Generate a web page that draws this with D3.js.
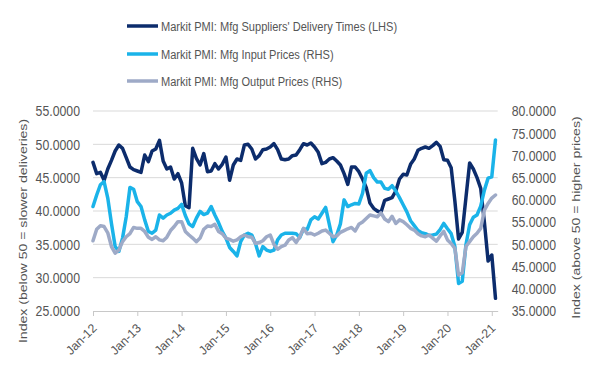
<!DOCTYPE html>
<html>
<head>
<meta charset="utf-8">
<script src="https://cdn.jsdelivr.net/npm/d3@7"></script>
<style>
  html, body { margin: 0; padding: 0; background: #fff; }
  svg { display: block; font-family: "Liberation Sans", Arial, sans-serif; }
</style>
</head>
<body>
<div id="chart"></div>
<script>
// Monthly, Jan-12 .. Feb-21
const tickLabels = ["Jan-12", "Jan-13", "Jan-14", "Jan-15", "Jan-16", "Jan-17", "Jan-18", "Jan-19", "Jan-20", "Jan-21"];

const deliveryTimes = [
  47.3, 45.6, 45.8, 44.6, 46.3, 47.6, 49.0, 49.9, 49.4, 48.0, 46.6, 46.2,
  46.0, 45.8, 48.4, 47.4, 49.0, 49.3, 50.6, 47.5, 46.3, 46.6, 44.8, 45.6,
  44.2, 40.8, 40.5, 49.4, 47.9, 46.9, 48.6, 45.9, 46.0, 47.1, 46.3, 47.0,
  48.1, 44.6, 46.9, 47.8, 47.6, 49.9, 50.0, 49.3, 47.8, 48.3, 49.2, 49.3,
  49.6, 50.1, 49.2, 47.8, 47.7, 47.8, 48.3, 48.4, 49.2, 50.1, 49.9, 50.2,
  49.6, 48.8, 47.1, 47.3, 47.8, 48.0, 47.5, 46.9, 45.6, 44.0, 46.6, 46.6,
  45.9, 44.8, 43.5, 41.2, 40.4, 40.0, 39.8, 41.6, 41.8, 42.0, 43.0, 44.8,
  45.5, 45.4, 47.0, 47.8, 49.1, 49.4, 49.6, 49.4, 49.8, 50.3, 49.7, 47.7,
  47.6, 46.5, 41.5, 35.8, 36.8, 42.0, 47.2, 46.3, 45.0, 43.4, 38.3, 32.5,
  33.4, 26.9
];

const inputPrices = [
  58.5, 61.1, 63.4, 64.1, 60.4, 54.7, 49.5, 48.4, 51.4, 56.2, 62.8, 62.4,
  59.6, 58.5, 55.5, 52.9, 52.5, 53.2, 56.6, 55.9, 56.6, 57.0, 57.7, 58.1,
  59.0, 56.5, 54.6, 54.0, 55.9, 57.4, 56.7, 57.0, 58.5, 56.6, 54.9, 52.9,
  51.4, 49.3, 48.4, 47.4, 50.6, 52.1, 52.5, 52.1, 50.2, 47.4, 49.5, 48.7,
  48.4, 48.7, 51.0, 52.1, 52.5, 52.5, 52.5, 52.4, 51.5, 53.5, 53.3, 55.5,
  56.2, 55.7, 57.0, 58.3, 54.5, 50.6, 52.1, 54.6, 60.0, 58.5, 58.9, 59.2,
  59.1, 61.5, 66.0, 66.6, 65.0, 64.0, 64.0, 62.6, 62.4, 63.2, 62.0, 60.5,
  58.9, 57.3, 55.3, 54.2, 53.1, 52.6, 52.4, 52.0, 52.1, 52.3, 53.3, 54.7,
  53.5, 52.4, 49.5, 41.2, 41.7, 49.9, 54.4, 56.1, 56.6, 58.6, 62.2, 64.9,
  65.2, 73.5
];

const outputPrices = [
  50.8, 53.4, 54.2, 54.0, 52.6, 49.5, 48.0, 48.7, 50.6, 51.7, 52.4, 53.8,
  53.6, 53.6, 52.9, 51.6, 51.1, 51.7, 51.0, 50.8, 51.6, 53.1, 54.0, 55.1,
  55.1, 52.9, 52.1, 51.4, 50.6, 51.4, 53.4, 54.1, 54.0, 54.5, 52.9, 52.4,
  51.4, 51.1, 50.7, 51.0, 51.7, 52.1, 51.7, 51.6, 50.2, 50.4, 50.8, 51.7,
  52.1, 50.0, 48.9, 49.5, 49.8, 51.0, 51.5, 50.4, 51.7, 53.6, 52.4, 52.5,
  52.1, 52.5, 53.0, 53.2, 52.5, 51.7, 51.9, 52.7, 53.1, 53.5, 53.8, 53.0,
  54.5, 55.0, 55.8, 56.6, 56.4, 56.2, 57.1, 55.7, 55.1, 56.3, 54.7, 55.5,
  55.1, 54.4, 53.6, 53.2, 52.4, 51.9, 51.7, 52.1, 51.4, 50.7, 51.9, 52.9,
  51.0, 50.2, 49.1, 43.1, 43.6, 49.5, 50.6, 51.7, 52.5, 53.6, 57.7, 59.2,
  60.4, 61.1
];

const leftTicks = [25, 30, 35, 40, 45, 50, 55];
const rightTicks = [35, 40, 45, 50, 55, 60, 65, 70, 75, 80];

const seriesNames = [
  "Markit PMI: Mfg Suppliers' Delivery Times (LHS)",
  "Markit PMI: Mfg Input Prices (RHS)",
  "Markit PMI: Mfg Output Prices (RHS)"
];
const seriesColors = ["#0c2c6c", "#1ab3e9", "#9eaac7"];

const W = 593, H = 371;
const plot = { left: 93, right: 497.7, top: 111, bottom: 311 };
const textColor = "#555555";
const squeeze = 0.82; // source picture is horizontally compressed

const svg = d3.select("#chart").append("svg")
    .attr("width", W)
    .attr("height", H);

// Scales
const x = d3.scaleLinear()
    .domain([0, 109.6])
    .range([plot.left, plot.right]);

const yL = d3.scaleLinear()
    .domain([25, 55])
    .range([plot.bottom, plot.top]);

const yR = d3.scaleLinear()
    .domain([35, 80])
    .range([plot.bottom, plot.top]);

// Gridlines
svg.append("g")
    .selectAll("line")
    .data(leftTicks.slice(1))
    .enter().append("line")
    .attr("x1", plot.left)
    .attr("x2", plot.right)
    .attr("y1", d => yL(d))
    .attr("y2", d => yL(d))
    .attr("stroke", "#d9d9d9")
    .attr("stroke-width", 1);

// X axis
const xAxis = svg.append("g")
    .attr("transform", `translate(0, ${plot.bottom})`)
    .call(d3.axisBottom(x)
        .tickValues(tickLabels.map((d, i) => i * 12))
        .tickFormat((d, i) => tickLabels[i])
        .tickSize(5)
        .tickSizeOuter(0));
xAxis.select(".domain").attr("stroke", "#c8c8c8");
xAxis.selectAll(".tick line").attr("stroke", "#c8c8c8");
xAxis.selectAll(".tick text")
    .attr("x", 0)
    .attr("y", 0)
    .attr("dy", 0)
    .attr("transform", "translate(4,18) rotate(-45)")
    .style("text-anchor", "end")
    .style("font-size", "12.3px")
    .attr("fill", textColor);

// Left axis
const leftAxis = svg.append("g")
    .attr("transform", `translate(${plot.left}, 0)`)
    .call(d3.axisLeft(yL).tickValues(leftTicks).tickFormat(d3.format(".4f")).tickSize(0));
leftAxis.select(".domain").remove();
leftAxis.selectAll(".tick text")
    .attr("x", 0)
    .attr("transform", `translate(-13,0) scale(${squeeze},1)`)
    .style("font-size", "15px")
    .attr("fill", textColor);

// Right axis
const rightAxis = svg.append("g")
    .attr("transform", `translate(${plot.right}, 0)`)
    .call(d3.axisRight(yR).tickValues(rightTicks).tickFormat(d3.format(".4f")).tickSize(0));
rightAxis.select(".domain").remove();
rightAxis.selectAll(".tick text")
    .attr("x", 0)
    .attr("transform", `translate(14,0) scale(${squeeze},1)`)
    .style("font-size", "15px")
    .attr("fill", textColor);

// Axis titles
svg.append("text")
    .attr("transform", `translate(27, 231) rotate(-90) scale(1, ${squeeze})`)
    .attr("text-anchor", "middle")
    .style("font-size", "14.1px")
    .attr("fill", textColor)
    .text("Index (below 50 = slower deliveries)");

svg.append("text")
    .attr("transform", `translate(580, 217.5) rotate(-90) scale(1, ${squeeze})`)
    .attr("text-anchor", "middle")
    .style("font-size", "14.1px")
    .attr("fill", textColor)
    .text("Index (above 50 = higher prices)");

// Lines
const lineL = d3.line().x((d, i) => x(i)).y(d => yL(d));
const lineR = d3.line().x((d, i) => x(i)).y(d => yR(d));

const series = [
    { values: deliveryTimes, line: lineL, color: seriesColors[0] },
    { values: inputPrices, line: lineR, color: seriesColors[1] },
    { values: outputPrices, line: lineR, color: seriesColors[2] }
];

svg.append("g")
    .selectAll("path")
    .data(series)
    .enter().append("path")
    .attr("d", d => d.line(d.values))
    .attr("fill", "none")
    .attr("stroke", d => d.color)
    .attr("stroke-width", 3.5)
    .attr("stroke-linejoin", "round")
    .attr("stroke-linecap", "round");

// Legend
const legendY = [26, 54, 81];
const legend = svg.append("g");

legend.selectAll("line")
    .data(seriesNames)
    .enter().append("line")
    .attr("x1", 127)
    .attr("x2", 158)
    .attr("y1", (d, i) => legendY[i])
    .attr("y2", (d, i) => legendY[i])
    .attr("stroke", (d, i) => seriesColors[i])
    .attr("stroke-width", 3.5);

legend.selectAll("text")
    .data(seriesNames)
    .enter().append("text")
    .attr("transform", (d, i) => `translate(161, ${legendY[i]}) scale(${squeeze},1)`)
    .attr("dy", "0.36em")
    .style("font-size", "13.5px")
    .attr("fill", textColor)
    .text(d => d);
</script>
</body>
</html>
